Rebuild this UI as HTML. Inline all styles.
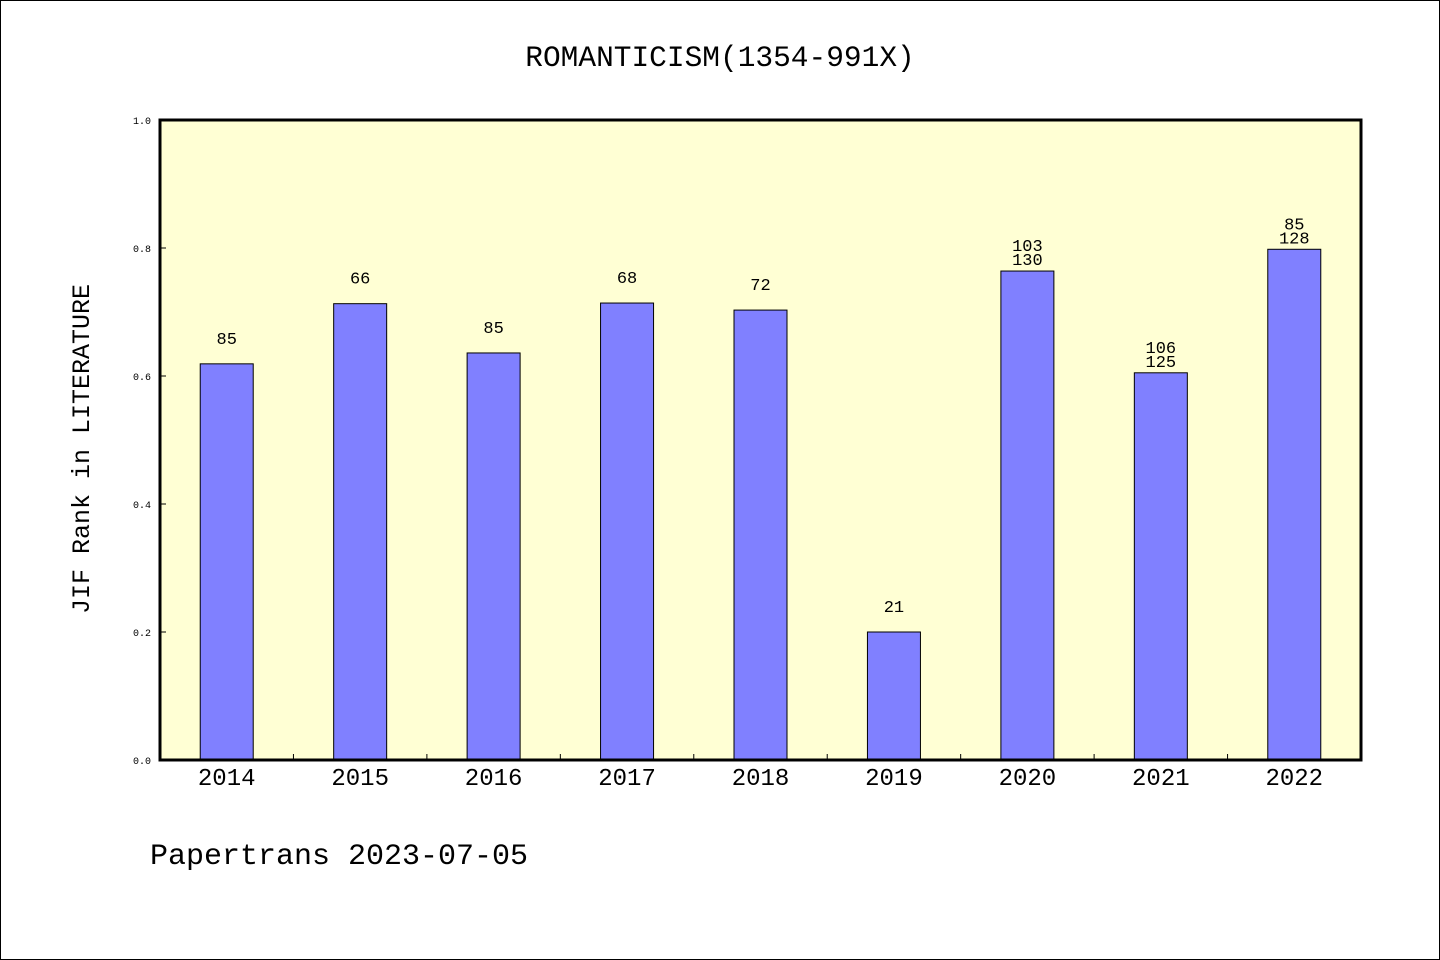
<!DOCTYPE html>
<html><head><meta charset="utf-8">
<style>
html,body{margin:0;padding:0;background:#fff;}
svg{display:block;}
text{font-family:"Liberation Mono","DejaVu Sans Mono",monospace;fill:#000;}
</style></head>
<body>
<svg id="chart" width="1440" height="960" viewBox="0 0 1440 960">
<rect x="0.5" y="0.5" width="1439" height="959" fill="#fff" stroke="#000"/>
<text x="720" y="66" font-size="29.5" text-anchor="middle">ROMANTICISM(1354-991X)</text>
<rect x="160" y="120" width="1201" height="640" fill="#ffffd4"/>
<g id="bars"></g>
<g id="ticks"></g>
<rect x="160" y="120" width="1201" height="640" fill="none" stroke="#000" stroke-width="3"/>
<text transform="translate(89,449) rotate(-90)" font-size="25" text-anchor="middle">JIF Rank in LITERATURE</text>
<text x="150" y="864" font-size="30">Papertrans 2023-07-05</text>
</svg>
<script>
const categories = ["2014","2015","2016","2017","2018","2019","2020","2021","2022"];
const values = [0.619, 0.713, 0.636, 0.714, 0.703, 0.200, 0.764, 0.605, 0.798];
const labelTop = ["", "", "", "", "", "", "103", "106", "85"];
const labelBottom = ["85", "66", "85", "68", "72", "21", "130", "125", "128"];
const yTicks = [0, 0.2, 0.4, 0.6, 0.8, 1.0];
const yTickLabels = ["0.0","0.2","0.4","0.6","0.8","1.0"];

const NS = "http://www.w3.org/2000/svg";
const X0 = 160, X1 = 1361, Y0 = 760, Y1 = 120;
const slot = (X1 - X0) / categories.length;
const xc = i => X0 + slot * (i + 0.5);
const y = v => Y0 - v * (Y0 - Y1);
function mk(tag, attrs, parent) {
  const e = document.createElementNS(NS, tag);
  for (const k in attrs) e.setAttribute(k, attrs[k]);
  parent.appendChild(e);
  return e;
}
const bars = document.getElementById("bars");
const ticks = document.getElementById("ticks");
categories.forEach((c, i) => {
  const r = mk("rect", {x: xc(i) - 26.5, y: y(values[i]), width: 53, height: Y0 - y(values[i]), fill: "#8080ff", stroke: "#000", "stroke-width": 1}, bars);
  
  
  const xl = mk("text", {x: xc(i), y: 785, "font-size": 24, "text-anchor": "middle"}, ticks);
  xl.textContent = c;
  
  
  if (labelTop[i]) {
    const t1 = mk("text", {x: xc(i), y: y(values[i]) - 20, "font-size": 17, "text-anchor": "middle"}, bars);
    t1.textContent = labelTop[i];
    
    
    const t2 = mk("text", {x: xc(i), y: y(values[i]) - 6, "font-size": 17, "text-anchor": "middle"}, bars);
    t2.textContent = labelBottom[i];
    
    
  } else {
    const t = mk("text", {x: xc(i), y: y(values[i]) - 20, "font-size": 17, "text-anchor": "middle"}, bars);
    t.textContent = labelBottom[i];
    
    
  }
  if (i > 0) {
    const tk = mk("line", {x1: X0 + slot * i, x2: X0 + slot * i, y1: Y0, y2: Y0 - 6, stroke: "#000", "stroke-width": 1}, ticks);
    
    
  }
});
yTicks.forEach((v, i) => {
  const tk = mk("line", {x1: X0, x2: X0 + 6, y1: y(v), y2: y(v), stroke: "#000", "stroke-width": 1}, ticks);
  
  
  const tl = mk("text", {x: 151, y: y(v) + 4, "font-size": 10, "text-anchor": "end"}, ticks);
  tl.textContent = yTickLabels[i];
  
  
});
</script>
</body></html>
